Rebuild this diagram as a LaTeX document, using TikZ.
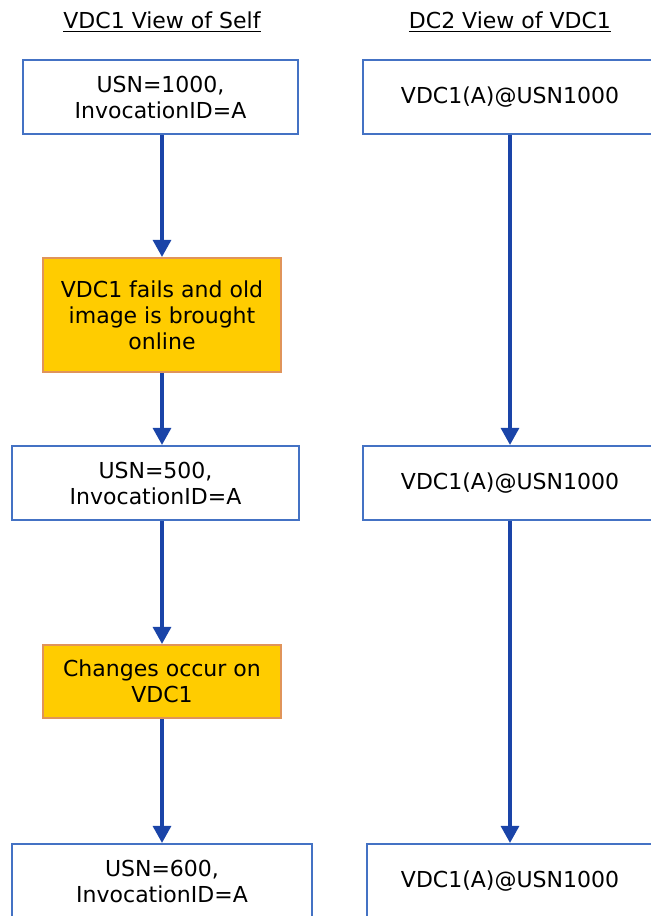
\documentclass[tikz,border=0pt]{standalone}
\usepackage{fontspec}
\setmainfont{DejaVu Sans}
\usetikzlibrary{arrows.meta}

\definecolor{boxblue}{HTML}{4472C4}
\definecolor{flowblue}{HTML}{1A44A8}
\definecolor{eventfill}{HTML}{FFCC00}
\definecolor{eventline}{HTML}{E0945A}

\tikzset{
  viewbox/.style={draw=boxblue, line width=1.1pt, fill=white, align=center,
    font=\fontsize{11}{13}\selectfont, inner sep=0pt, minimum height=37pt},
  eventbox/.style={draw=eventline, line width=1.1pt, fill=eventfill, align=center,
    font=\fontsize{11}{13}\selectfont, inner sep=0pt, minimum width=119pt},
  flow/.style={draw=flowblue, line width=1.6pt, -{Triangle[length=8.5pt,width=9pt]}},
  heading/.style={font=\fontsize{11}{13}\selectfont, inner sep=0pt}
}

\begin{document}
\begin{tikzpicture}[x=0.5pt,y=-0.5pt]
  \useasboundingbox (0,0) rectangle (651,916);
  \clip (0,0) rectangle (651,916);
  %%%%% HEADINGS %%%%%
  \node[heading] (headself) at (162,22) {\underline{VDC1 View of Self}};
  \node[heading] (headpeer) at (510,22) {\underline{DC2 View of VDC1}};

  %%%%% VDC1 VIEW OF SELF %%%%%
  \node[viewbox, minimum width=137.5pt] (self1) at (160.5,97) {USN=1000,\\InvocationID=A};
  \node[eventbox, minimum height=57pt] (fail) at (162,315) {VDC1 fails and old\\image is brought\\online};
  \node[viewbox, minimum width=143.5pt] (self2) at (155.5,483) {USN=500,\\InvocationID=A};
  \node[eventbox, minimum height=36.5pt] (change) at (162,681.5) {Changes occur on\\VDC1};
  \node[viewbox, minimum width=150pt] (self3) at (162,881) {USN=600,\\InvocationID=A};

  %%%%% DC2 VIEW OF VDC1 %%%%%
  \node[viewbox, minimum width=147pt] (peer1) at (510,97) {VDC1(A)@USN1000};
  \node[viewbox, minimum width=147pt] (peer2) at (510,483) {VDC1(A)@USN1000};
  \node[viewbox, minimum width=143pt] (peer3) at (510,881) {VDC1(A)@USN1000};

  %%%%% ARROWS %%%%%
  \draw[flow] (fail.north |- self1.south) -- (fail.north);
  \draw[flow] (fail.south) -- (fail.south |- self2.north);
  \draw[flow] (change.north |- self2.south) -- (change.north);
  \draw[flow] (change.south) -- (change.south |- self3.north);
  \draw[flow] (peer1.south) -- (peer2.north);
  \draw[flow] (peer2.south) -- (peer3.north);
\end{tikzpicture}
\end{document}
